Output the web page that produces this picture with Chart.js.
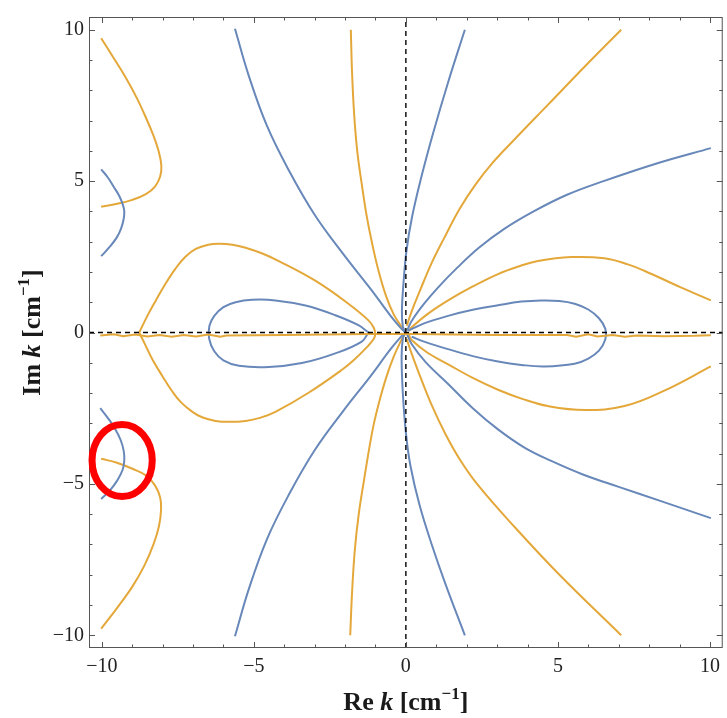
<!DOCTYPE html>
<html>
<head>
<meta charset="utf-8">
<title>Re k / Im k contours</title>
<script src="https://cdn.jsdelivr.net/npm/chart.js@4.4.1/dist/chart.umd.min.js"></script>
<style>
  html, body { margin:0; padding:0; background:#fff; }
  #wrap { width:727px; height:718px; }
</style>
</head>
<body>
<div id="wrap"><canvas id="contours" width="727" height="718"></canvas></div>
<script>
// axis range + ticks (cm^-1)
const AXIS_MIN = -10.42, AXIS_MAX = 10.42;
const majorTicks = [-10, -5, 0, 5, 10];
const minorTicks = [-9, -8, -7, -6, -4, -3, -2, -1, 1, 2, 3, 4, 6, 7, 8, 9];

// Re f = 0 contours (blue), [Re k, Im k]
const blueUpLeft = [[-5.62,10.03],[-5.16,8.46],[-4.57,6.83],[-3.85,5.36],[-3.0,3.89],[-2.05,2.58],[-1.16,1.44],[-0.51,0.56],[-0.15,0.13],[-0.03,0.02]];
const blueUpAxis = [[1.94,10.0],[1.4,8.3],[0.9,6.6],[0.5,5.1],[0.2,3.8],[0.02,2.7],[-0.08,1.6],[-0.13,0.7],[-0.1,0.2],[-0.03,0.03]];
const blueUpRight = [[0.04,0.06],[0.19,0.38],[0.6,0.95],[1.07,1.5],[1.7,2.15],[2.4,2.8],[3.2,3.4],[4.2,4.0],[5.3,4.55],[6.5,5.0],[8.3,5.6],[10.03,6.09]];
const blueLobeRight = [[0.08,0.06],[0.6,0.3],[1.39,0.55],[2.2,0.75],[3.03,0.9],[3.8,1.02],[4.45,1.06],[5.05,1.04],[5.55,0.95],[6.0,0.76],[6.35,0.47],[6.56,0.12],[6.56,-0.22],[6.35,-0.6],[6.0,-0.86],[5.55,-1.03],[4.56,-1.12],[3.8,-1.07],[3.03,-0.96],[2.2,-0.78],[1.39,-0.55],[0.6,-0.3],[0.19,-0.14]];
const blueLoopLeft = [[-1.23,0.0],[-1.56,0.24],[-2.32,0.57],[-3.3,0.89],[-4.29,1.06],[-5.06,1.08],[-5.6,1.0],[-6.0,0.84],[-6.3,0.55],[-6.46,0.22],[-6.47,-0.2],[-6.3,-0.62],[-6.0,-0.92],[-5.49,-1.1],[-4.51,-1.14],[-3.42,-1.01],[-2.32,-0.69],[-1.45,-0.3],[-1.23,0.0]];
const blueDownLeft = [[-0.03,-0.02],[-0.15,-0.13],[-0.51,-0.56],[-1.16,-1.44],[-2.05,-2.58],[-3.0,-3.89],[-3.85,-5.36],[-4.57,-6.83],[-5.16,-8.46],[-5.62,-10.03]];
const blueDownAxis = [[-0.03,-0.03],[-0.1,-0.2],[-0.14,-0.8],[-0.1,-2.0],[0.0,-3.3],[0.15,-4.4],[0.45,-5.7],[0.85,-7.0],[1.3,-8.3],[1.94,-10.0]];
const blueDownRight = [[0.04,-0.06],[0.19,-0.38],[0.65,-0.98],[1.39,-1.7],[2.2,-2.5],[3.03,-3.2],[3.9,-3.8],[4.8,-4.25],[5.8,-4.68],[7.0,-5.1],[8.39,-5.57],[10.03,-6.13]];
const blueEdgeUp = [[-10.02,5.39],[-9.8,5.12],[-9.6,4.8],[-9.42,4.5],[-9.3,4.2],[-9.26,4.0],[-9.28,3.75],[-9.36,3.45],[-9.5,3.15],[-9.72,2.85],[-10.02,2.52]];
const blueEdgeDown = [[-10.05,-2.5],[-9.78,-2.85],[-9.55,-3.2],[-9.38,-3.55],[-9.28,-3.9],[-9.26,-4.23],[-9.32,-4.55],[-9.5,-4.9],[-9.72,-5.2],[-10.02,-5.5]];

// Im f = 0 contours (orange)
const orangeUpLeft = [[-1.81,10.0],[-1.77,8.6],[-1.7,7.2],[-1.6,6.0],[-1.45,4.9],[-1.28,3.8],[-1.1,2.9],[-0.9,2.04],[-0.65,1.2],[-0.4,0.6],[-0.15,0.2],[-0.03,0.05]];
const orangeUpRight = [[7.08,10.0],[5.9,8.8],[4.7,7.55],[3.5,6.3],[2.85,5.6],[2.3,4.9],[1.78,4.1],[1.25,3.1],[0.85,2.3],[0.45,1.35],[0.19,0.7],[0.03,0.22]];
const orangeLobeUp = [[0.1,0.05],[0.19,0.17],[0.7,0.6],[1.39,1.06],[2.2,1.52],[3.03,1.93],[3.7,2.18],[4.34,2.36],[5.44,2.49],[6.53,2.45],[7.3,2.25],[7.84,2.04],[9.04,1.49],[10.03,1.06]];
const orangeLobeDown = [[0.1,-0.08],[0.19,-0.25],[0.7,-0.66],[1.39,-1.05],[2.2,-1.5],[3.03,-1.89],[3.85,-2.2],[4.67,-2.43],[5.88,-2.56],[7.19,-2.43],[8.5,-1.92],[10.03,-1.12]];
const orangeDownLeft = [[-0.03,-0.05],[-0.15,-0.25],[-0.4,-0.8],[-0.65,-1.5],[-0.88,-2.3],[-1.05,-3.0],[-1.2,-3.8],[-1.38,-4.9],[-1.55,-6.0],[-1.68,-7.2],[-1.77,-8.6],[-1.83,-10.0]];
const orangeDownRight = [[0.03,-0.22],[0.19,-0.7],[0.45,-1.4],[0.85,-2.4],[1.3,-3.35],[1.78,-4.2],[2.38,-5.05],[3.6,-6.45],[5.0,-7.95],[7.08,-10.0]];
const orangeLoopLeft = [[-8.77,0.0],[-8.5,0.55],[-8.22,1.06],[-7.9,1.62],[-7.57,2.12],[-7.25,2.5],[-6.91,2.76],[-6.5,2.9],[-6.15,2.93],[-5.7,2.9],[-5.27,2.8],[-4.7,2.6],[-4.18,2.36],[-2.98,1.71],[-1.89,0.95],[-1.23,0.4],[-1.05,0.15],[-1.01,-0.05],[-1.05,-0.2],[-1.25,-0.45],[-1.7,-0.9],[-2.1,-1.23],[-3.2,-1.99],[-4.29,-2.62],[-4.8,-2.82],[-5.27,-2.92],[-5.8,-2.95],[-6.26,-2.92],[-6.7,-2.8],[-7.02,-2.62],[-7.4,-2.3],[-7.68,-1.95],[-8.0,-1.45],[-8.33,-0.9],[-8.55,-0.45],[-8.77,0.0]];
const orangeEdgeUp = [[-10.02,9.72],[-9.6,9.05],[-9.2,8.4],[-8.85,7.75],[-8.55,7.1],[-8.3,6.5],[-8.12,5.95],[-8.04,5.5],[-8.08,5.15],[-8.25,4.82],[-8.55,4.57],[-9.0,4.38],[-9.5,4.25],[-10.02,4.15]];
const orangeEdgeDown = [[-10.02,-4.17],[-9.5,-4.3],[-8.99,-4.5],[-8.55,-4.72],[-8.25,-5.05],[-8.08,-5.45],[-8.05,-5.85],[-8.12,-6.4],[-8.3,-7.0],[-8.6,-7.7],[-9.0,-8.4],[-9.5,-9.1],[-10.02,-9.78]];
// noisy branch along the real axis
const orangeRealAxis = [[-10.05,-0.1],[-9.6,-0.06],[-9.3,-0.12],[-8.9,-0.07],[-8.5,-0.13],[-8.1,-0.08],[-7.7,-0.14],[-7.3,-0.08],[-6.9,-0.13],[-6.5,-0.07],[-6.1,-0.14],[-5.9,-0.1],[-4.0,-0.08],[-1.2,-0.05],[0.2,-0.05],[3.0,-0.08],[5.3,-0.08],[5.6,-0.14],[6.0,-0.06],[6.3,-0.13],[6.8,-0.08],[7.2,-0.14],[7.6,-0.1],[8.5,-0.12],[9.5,-0.11],[10.03,-0.09]];

// red ring around the crossing at lower left
const markCenter = [-9.33, -4.23];
const markRadius = [0.99, 1.19];

const BLUE = 'rgb(104,136,186)';
const ORANGE = 'rgb(228,168,58)';
const SERIF = '"Liberation Serif", "DejaVu Serif", serif';

const blueCurves = [blueUpLeft, blueUpAxis, blueUpRight, blueLobeRight, blueLoopLeft, blueDownLeft, blueDownAxis, blueDownRight, blueEdgeUp, blueEdgeDown];
const orangeCurves = [orangeUpLeft, orangeUpRight, orangeLobeUp, orangeLobeDown, orangeDownLeft, orangeDownRight, orangeLoopLeft, orangeEdgeUp, orangeEdgeDown];

const toXY = pts => pts.map(p => ({ x: p[0], y: p[1] }));
const curve = (pts, color, tension) => ({
  data: toXY(pts), borderColor: color, borderWidth: 2, pointRadius: 0,
  showLine: true, fill: false, tension: tension, order: 2
});

const datasets = [
  // dashed axes on top
  { data: [{x: AXIS_MIN, y: 0}, {x: AXIS_MAX, y: 0}], borderColor: '#000', borderWidth: 1.4, borderDash: [5, 4], pointRadius: 0, showLine: true, order: 0 },
  { data: [{x: 0, y: AXIS_MIN}, {x: 0, y: AXIS_MAX}], borderColor: '#000', borderWidth: 1.4, borderDash: [5, 4], pointRadius: 0, showLine: true, order: 0 },
  curve(orangeRealAxis, ORANGE, 0),
  ...blueCurves.map(c => curve(c, BLUE, 0.4)),
  ...orangeCurves.map(c => curve(c, ORANGE, 0.4))
];

const fmtTick = v => v < 0 ? '\u2212' + Math.abs(v) : String(v);

// frame with inward ticks on all four sides
const framePlugin = {
  id: 'frame',
  afterDatasetsDraw(chart) {
    const { ctx, chartArea: a, scales: { x, y } } = chart;
    ctx.save();
    ctx.strokeStyle = '#555';
    ctx.lineWidth = 1;
    ctx.strokeRect(a.left + 0.5, a.top + 0.5, a.right - a.left - 1, a.bottom - a.top - 1);
    const tick = (vals, len) => {
      ctx.beginPath();
      vals.forEach(v => {
        const px = Math.round(x.getPixelForValue(v)) + 0.5;
        const py = Math.round(y.getPixelForValue(v)) + 0.5;
        ctx.moveTo(px, a.bottom); ctx.lineTo(px, a.bottom - len);
        ctx.moveTo(px, a.top); ctx.lineTo(px, a.top + len);
        ctx.moveTo(a.left, py); ctx.lineTo(a.left + len, py);
        ctx.moveTo(a.right, py); ctx.lineTo(a.right - len, py);
      });
      ctx.stroke();
    };
    tick(majorTicks, 6);
    tick(minorTicks, 3.5);
    ctx.restore();
  },
  afterDraw(chart) {
    const { ctx, chartArea: a, scales: { x, y } } = chart;
    ctx.save();
    // ring
    const cx = x.getPixelForValue(markCenter[0]), cy = y.getPixelForValue(markCenter[1]);
    const rx = x.getPixelForValue(markCenter[0] + markRadius[0]) - cx;
    const ry = cy - y.getPixelForValue(markCenter[1] + markRadius[1]);
    ctx.strokeStyle = 'rgb(255,0,0)';
    ctx.lineWidth = 7;
    ctx.beginPath();
    ctx.ellipse(cx, cy, rx, ry, 0, 0, Math.PI * 2);
    ctx.stroke();
    ctx.restore();

    drawTitle(ctx, 'Re', (a.left + a.right) / 2, 710, 0);
    drawTitle(ctx, 'Im', 40, (a.top + a.bottom) / 2, -Math.PI / 2);
  }
};

// "Re k [cm^-1]" style titles with italic k and superscript
function drawTitle(ctx, head, cx, baseY, angle) {
  const big = 'bold 26px ' + SERIF;
  const parts = [
    { t: head + ' ', f: big, dy: 0 },
    { t: 'k', f: 'italic bold 26px ' + SERIF, dy: 0 },
    { t: ' [cm', f: big, dy: 0 },
    { t: '\u22121', f: 'bold 17px ' + SERIF, dy: -11 },
    { t: ']', f: big, dy: 0 }
  ];
  let total = 0;
  parts.forEach(p => { ctx.font = p.f; p.w = ctx.measureText(p.t).width; total += p.w; });
  ctx.save();
  ctx.translate(cx, baseY);
  ctx.rotate(angle);
  ctx.fillStyle = '#1a1a1a';
  ctx.textBaseline = 'alphabetic';
  let pos = -total / 2;
  parts.forEach(p => { ctx.font = p.f; ctx.fillText(p.t, pos, p.dy); pos += p.w; });
  ctx.restore();
}

const tickFont = { family: SERIF, size: 20 };

new Chart(document.getElementById('contours'), {
  type: 'scatter',
  data: { datasets },
  options: {
    responsive: false,
    animation: false,
    devicePixelRatio: 1,
    layout: { padding: { top: 11, right: 2, left: 0, bottom: 0 } },
    plugins: { legend: { display: false }, tooltip: { enabled: false } },
    scales: {
      x: {
        type: 'linear', min: AXIS_MIN, max: AXIS_MAX,
        grid: { display: false, drawTicks: false }, border: { display: false },
        ticks: { font: tickFont, color: '#222', padding: 7, maxRotation: 0, autoSkip: false, callback: fmtTick },
        afterBuildTicks: s => { s.ticks = majorTicks.map(v => ({ value: v })); },
        afterFit: s => { s.height = 70; }
      },
      y: {
        type: 'linear', min: AXIS_MIN, max: AXIS_MAX,
        grid: { display: false, drawTicks: false }, border: { display: false },
        ticks: { font: tickFont, color: '#222', padding: 5, autoSkip: false, callback: fmtTick },
        afterBuildTicks: s => { s.ticks = majorTicks.map(v => ({ value: v })); },
        afterFit: s => { s.width = 89; }
      }
    }
  },
  plugins: [framePlugin]
});
</script>
</body>
</html>
